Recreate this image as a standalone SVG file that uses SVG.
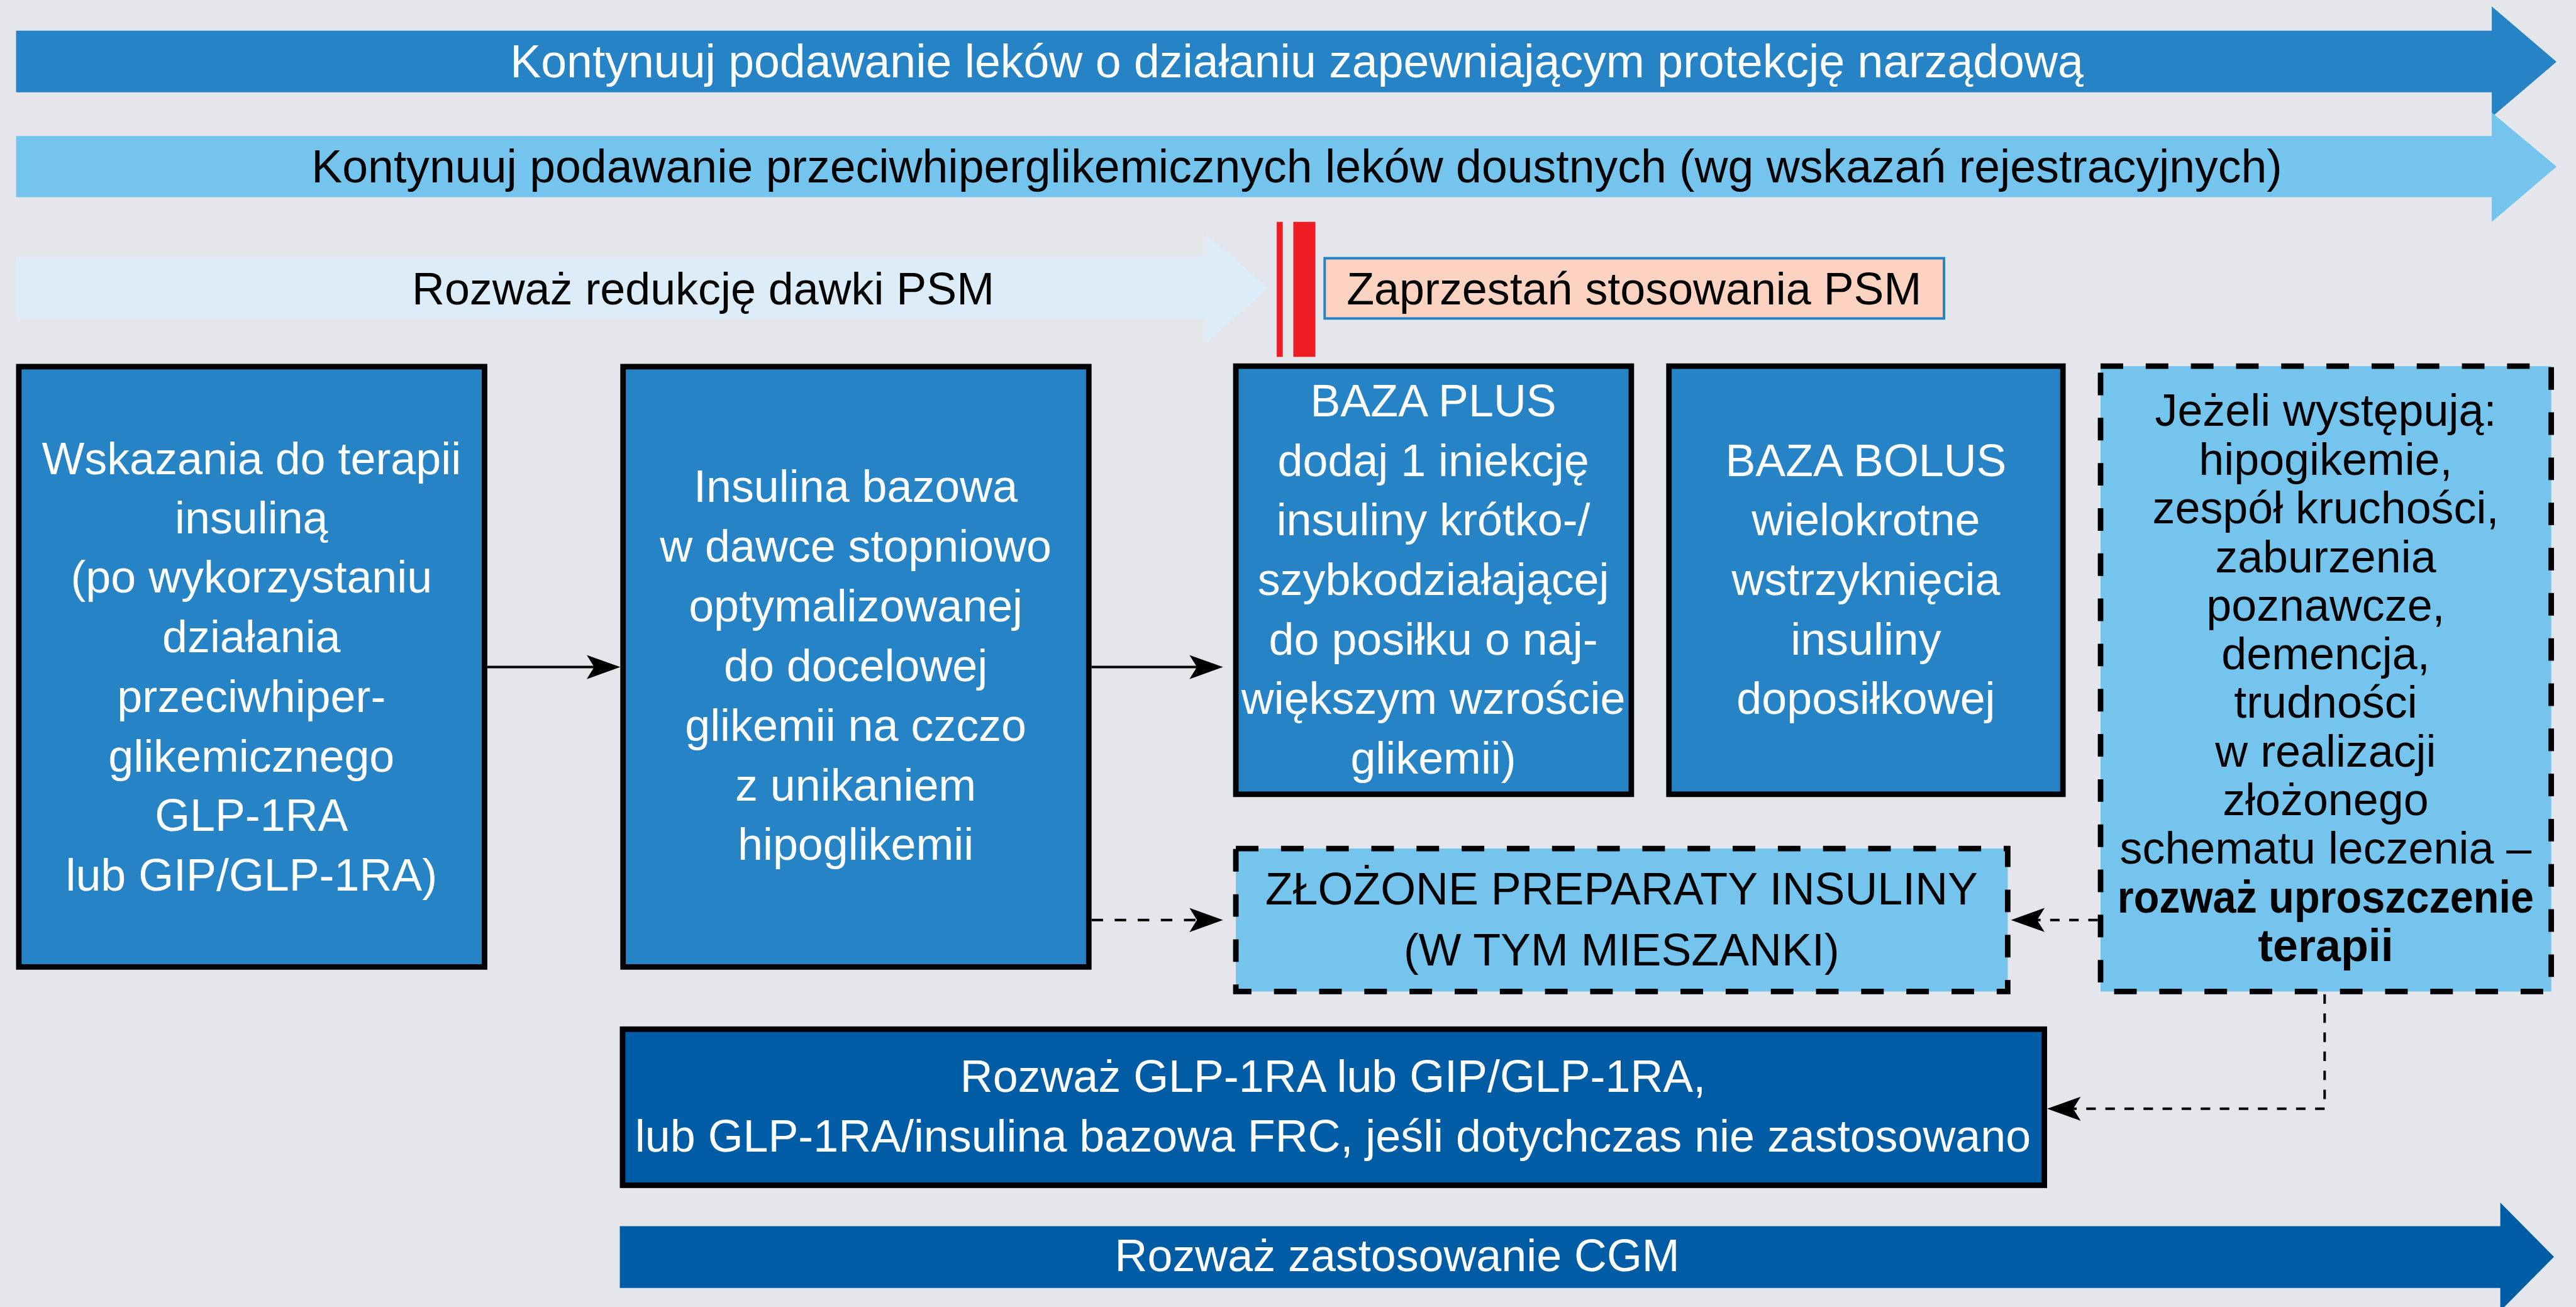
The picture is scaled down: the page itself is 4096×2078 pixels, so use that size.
<svg xmlns="http://www.w3.org/2000/svg" width="4096" height="2078" viewBox="0 0 4096 2078">
<defs>
<style>
text{font-family:"Liberation Sans",Arial,sans-serif;font-size:90px;text-anchor:middle}
.w{fill:#ffffff}
.k{fill:#000000}
.b{font-weight:bold}
.big{font-size:92px}
.box{fill:#2684C6;stroke:#000;stroke-width:11}
.dbox{fill:#74C4ED;stroke:#000;stroke-width:11;stroke-dasharray:45 45}
.con{fill:none;stroke:#000;stroke-width:5}
.d1{stroke-dasharray:23 23}
.d2{stroke-dasharray:19 19}
</style>
<marker id="ah" viewBox="0 -26 70 52" refX="15" refY="0" markerWidth="70" markerHeight="52" markerUnits="userSpaceOnUse" orient="auto">
<path d="M0,-24 L67,0 L0,24 L15,0 Z" fill="#000"/>
</marker>
</defs>
<rect x="0" y="0" width="4096" height="2078" fill="#E4E6EB"/>
<g transform="scale(0.798)">
<g id="band-protekcja">
<polygon points="32,61 4965,61 4965,13 5094,123 4965,233 4965,184 32,184" fill="#2684C6"/>
<text class="w big" x="2584" y="154">Kontynuuj podawanie leków o działaniu zapewniającym protekcję narządową</text>
</g>
<g id="band-doustne">
<polygon points="32,271 4965,271 4965,224 5094,332 4965,442 4965,393 32,393" fill="#74C4ED"/>
<text class="k big" x="2584" y="364">Kontynuuj podawanie przeciwhiperglikemicznych leków doustnych (wg wskazań rejestracyjnych)</text>
</g>
<g id="band-psm">
<polygon points="32,513 2403,513 2403,466 2527,574 2403,683 2403,636 32,636" fill="#DCEDF9"/>
<text class="k" x="1401" y="606">Rozważ redukcję dawki PSM</text>
</g>
<g id="stop-bars">
<rect x="2544" y="442" width="12" height="269" fill="#EE1D24"/>
<rect x="2577" y="442" width="44" height="269" fill="#EE1D24"/>
</g>
<g id="zaprzestan">
<rect x="2639.5" y="514.5" width="1234" height="120" fill="#FCD3C1" stroke="#2684C6" stroke-width="5"/>
<text class="k" x="3256" y="606">Zaprzestań stosowania PSM</text>
</g>
<g id="wskazania">
<rect class="box" x="37.5" y="730.5" width="928" height="1196"/>
<text class="w" x="501" y="945">Wskazania do terapii</text>
<text class="w" x="501" y="1063">insuliną</text>
<text class="w" x="501" y="1181">(po wykorzystaniu</text>
<text class="w" x="501" y="1300">działania</text>
<text class="w" x="501" y="1418">przeciwhiper-</text>
<text class="w" x="501" y="1537">glikemicznego</text>
<text class="w" x="501" y="1655">GLP-1RA</text>
<text class="w" x="501" y="1774">lub GIP/GLP-1RA)</text>
</g>
<g id="insulina-bazowa">
<rect class="box" x="1241.5" y="730.5" width="928" height="1196"/>
<text class="w" x="1705" y="1000">Insulina bazowa</text>
<text class="w" x="1705" y="1119">w dawce stopniowo</text>
<text class="w" x="1705" y="1238">optymalizowanej</text>
<text class="w" x="1705" y="1357">do docelowej</text>
<text class="w" x="1705" y="1476">glikemii na czczo</text>
<text class="w" x="1705" y="1595">z unikaniem</text>
<text class="w" x="1705" y="1713">hipoglikemii</text>
</g>
<g id="baza-plus">
<rect class="box" x="2462.5" y="729.5" width="788" height="853"/>
<text class="w" x="2856" y="830">BAZA PLUS</text>
<text class="w" x="2856" y="949">dodaj 1 iniekcję</text>
<text class="w" x="2856" y="1067">insuliny krótko-/</text>
<text class="w" x="2856" y="1185">szybkodziałającej</text>
<text class="w" x="2856" y="1304">do posiłku o naj-</text>
<text class="w" x="2856" y="1422">większym wzroście</text>
<text class="w" x="2856" y="1541">glikemii)</text>
</g>
<g id="baza-bolus">
<rect class="box" x="3325.5" y="729.5" width="785" height="853"/>
<text class="w" x="3718" y="949">BAZA BOLUS</text>
<text class="w" x="3718" y="1067">wielokrotne</text>
<text class="w" x="3718" y="1185">wstrzyknięcia</text>
<text class="w" x="3718" y="1304">insuliny</text>
<text class="w" x="3718" y="1422">doposiłkowej</text>
</g>
<g id="zlozone">
<rect class="dbox" x="2462.5" y="1690.5" width="1538" height="285"/>
<text class="k" x="3231" y="1802">ZŁOŻONE PREPARATY INSULINY</text>
<text class="k" x="3231" y="1924">(W TYM MIESZANKI)</text>
</g>
<g id="uproszczenie">
<rect class="dbox" x="4185.5" y="729.5" width="898" height="1246"/>
<text class="k" x="4634" y="849">Jeżeli występują:</text>
<text class="k" x="4634" y="946">hipogikemie,</text>
<text class="k" x="4634" y="1043">zespół kruchości,</text>
<text class="k" x="4634" y="1140">zaburzenia</text>
<text class="k" x="4634" y="1237">poznawcze,</text>
<text class="k" x="4634" y="1333">demencja,</text>
<text class="k" x="4634" y="1430">trudności</text>
<text class="k" x="4634" y="1527">w realizacji</text>
<text class="k" x="4634" y="1624">złożonego</text>
<text class="k" x="4634" y="1721">schematu leczenia –</text>
<text class="k b" x="4634" y="1818" textLength="830" lengthAdjust="spacingAndGlyphs">rozważ uproszczenie</text>
<text class="k b" x="4634" y="1915">terapii</text>
</g>
<g id="glp1">
<rect x="1240.5" y="2050.5" width="2833" height="311" fill="#005CA5" stroke="#000" stroke-width="11"/>
<text class="w" x="2656" y="2175">Rozważ GLP-1RA lub GIP/GLP-1RA,</text>
<text class="w" x="2656" y="2295">lub GLP-1RA/insulina bazowa FRC, jeśli dotychczas nie zastosowano</text>
</g>
<g id="band-cgm">
<polygon points="1235,2443 4982,2443 4982,2396 5089,2504 4982,2612 4982,2566 1235,2566" fill="#005CA5"/>
<text class="w" x="2784" y="2533">Rozważ zastosowanie CGM</text>
</g>
<g id="connectors">
<path class="con" d="M971,1329 H1184" marker-end="url(#ah)"/>
<path class="con" d="M2175,1329 H2385" marker-end="url(#ah)"/>
<path class="con d1" d="M2175,1833 H2385" marker-end="url(#ah)"/>
<path class="con d2" d="M4180,1833 H4059" marker-end="url(#ah)"/>
<path class="con d2" d="M4632,1981 V2209 H4131" marker-end="url(#ah)"/>
</g>
</g>
</svg>
